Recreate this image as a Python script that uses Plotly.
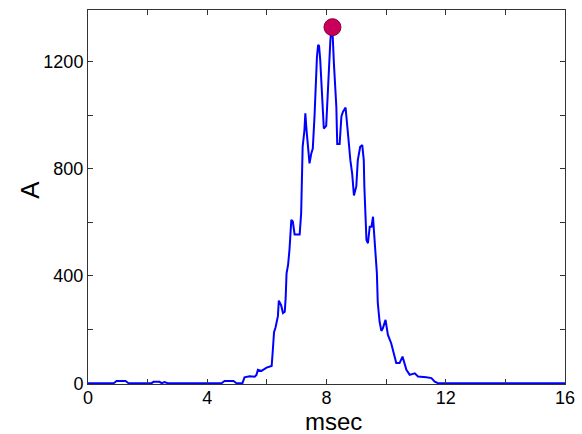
import plotly.graph_objects as go

# Trace of the waveform (msec, A)
t_ms = [0.0, 0.86, 0.96, 1.26, 1.36, 2.13, 2.2, 2.4, 2.47, 2.57, 2.67, 4.48, 4.58, 4.88, 4.98,
        5.18, 5.25, 5.42, 5.59, 5.65, 5.70, 5.82, 5.99, 6.16, 6.2, 6.24, 6.29, 6.37, 6.40, 6.48,
        6.54, 6.6, 6.63, 6.66, 6.71, 6.76, 6.82, 6.87, 6.93, 7.1, 7.15, 7.18, 7.2, 7.26, 7.29,
        7.33, 7.38, 7.43, 7.49, 7.54, 7.6, 7.64, 7.68, 7.72, 7.75, 7.79, 7.83, 7.88, 7.91, 7.99,
        8.05, 8.08, 8.13, 8.17, 8.21, 8.25, 8.29, 8.33, 8.36, 8.44, 8.5, 8.55, 8.64, 8.68, 8.73,
        8.8, 8.86, 8.92, 9.0, 9.05, 9.13, 9.2, 9.25, 9.27, 9.31, 9.34, 9.39, 9.45, 9.51, 9.56,
        9.59, 9.64, 9.69, 9.72, 9.78, 9.84, 9.89, 9.98, 10.06, 10.17, 10.34, 10.45, 10.55, 10.68,
        10.79, 10.96, 11.07, 11.35, 11.52, 11.63, 11.74, 16.0]
amp = [0, 0, 8, 8, 0, 0, 5, 5, 0, 4, 0, 0, 8, 8, 0,
       0, 22, 26, 24, 31, 50, 46, 58, 64, 124, 190, 208, 250, 308, 290,
       262, 267, 318, 410, 440, 500, 609, 603, 555, 555, 634, 739, 882, 944, 1007,
       944, 882, 820, 857, 875, 1000, 1118, 1218, 1262, 1258, 1205, 1130, 1030, 950, 960,
       1100, 1205, 1280, 1328, 1290, 1190, 1118, 1030, 892, 892, 995, 1012, 1028, 988, 919,
       832, 783, 700, 735, 832, 882, 888, 832, 733, 621, 534, 522, 584, 584, 621,
       571, 485, 410, 300, 230, 195, 205, 236, 180, 149, 75, 75, 99, 50,
       31, 37, 25, 22, 19, 6, 0, 0]

peak_t = [8.2]
peak_a = [1328]

x_ticks = [0, 4, 8, 12, 16]
y_ticks = [0, 400, 800, 1200]
x_title = "msec"
y_title = "A"

fig = go.Figure()
fig.add_trace(go.Scatter(x=t_ms, y=amp, mode="lines",
                         line=dict(color="#0000FF", width=2), showlegend=False))
fig.add_trace(go.Scatter(x=peak_t, y=peak_a, mode="markers",
                         marker=dict(size=17, color="#C8005A",
                                     line=dict(color="#8A0038", width=1)),
                         showlegend=False))

font = "Liberation Sans, Arial, sans-serif"
fig.update_layout(
    width=582, height=434,
    margin=dict(l=88, r=17, t=10, b=50),
    plot_bgcolor="white", paper_bgcolor="white",
    font=dict(family=font, size=18, color="black"),
    xaxis=dict(range=[0, 16], tickvals=x_ticks, ticks="inside", ticklen=5,
               tickcolor="#333", showgrid=False, zeroline=False, automargin=False,
               showline=True, linecolor="#333", linewidth=1, mirror="allticks",
               minor=dict(dtick=2, tick0=0, ticks="inside", ticklen=5, tickcolor="#333"),
               ticklabelstandoff=-3,
               tickfont=dict(size=18)),
    yaxis=dict(range=[-3, 1392], tickvals=y_ticks, ticks="inside", ticklen=5,
               tickcolor="#333", showgrid=False, zeroline=False, automargin=False,
               showline=True, linecolor="#333", linewidth=1, mirror="allticks",
               minor=dict(dtick=200, tick0=0, ticks="inside", ticklen=5, tickcolor="#333"),
               tickfont=dict(size=18)),
    annotations=[
        dict(text=x_title, xref="paper", yref="paper", x=0.515, y=-0.101,
             xanchor="center", yanchor="middle", showarrow=False,
             font=dict(size=24, family=font)),
        dict(text=y_title, xref="paper", yref="paper", x=-0.122, y=0.519,
             xanchor="center", yanchor="middle", showarrow=False, textangle=-90,
             font=dict(size=26, family=font)),
    ],
)

fig.write_html("out.html")
